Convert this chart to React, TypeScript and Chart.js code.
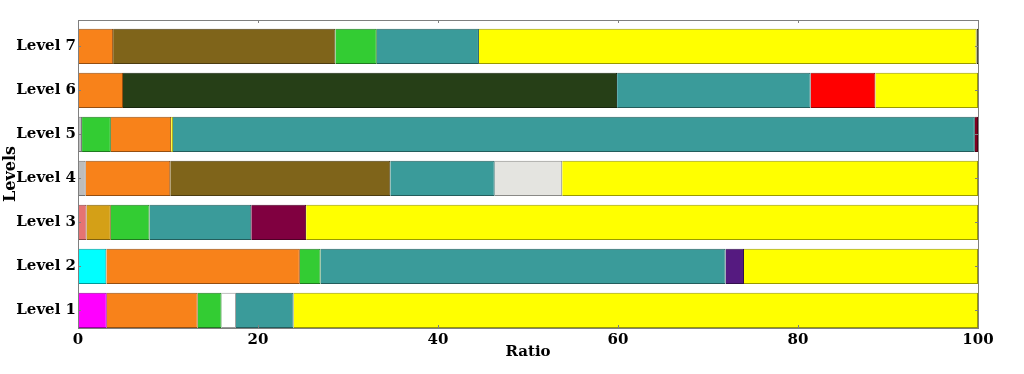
import { useEffect, useRef } from "react";
import { Chart, registerables } from "chart.js";

Chart.register(...registerables);

const levelLabels = ["Level 1", "Level 2", "Level 3", "Level 4", "Level 5", "Level 6", "Level 7"];
const xTickValues = [0, 20, 40, 60, 80, 100];

const ORANGE = "#f8821a";
const GREEN = "#33cc33";
const TEAL = "#3a9b9a";
const YELLOW = "#ffff00";
const OLIVE = "#7f641a";

const level1Values = [3.2, 10.1, 2.65, 1.6, 6.4, 76.05];
const level1Colors = ["#ff00ff", ORANGE, GREEN, "#ffffff", TEAL, YELLOW];

const level2Values = [3.15, 21.5, 2.3, 45.0, 2.05, 26.0];
const level2Colors = ["#00ffff", ORANGE, GREEN, TEAL, "#551a80", YELLOW];

const level3Values = [0.95, 2.7, 4.3, 11.3, 6.1, 74.65];
const level3Colors = ["#e67373", "#d4a017", GREEN, TEAL, "#800040", YELLOW];

const level4Values = [0.85, 9.4, 24.45, 11.6, 7.5, 46.2];
const level4Colors = ["#bdbdbd", ORANGE, OLIVE, TEAL, "#e4e4e0", YELLOW];

const level5Values = [0.45, 3.2, 6.7, 0.2, 89.1, 0.35];
const level5Colors = ["#bdbdbd", GREEN, ORANGE, YELLOW, TEAL, "#800020"];

const level6Values = [5.0, 54.9, 21.5, 7.2, 11.4];
const level6Colors = [ORANGE, "#263f17", TEAL, "#ff0000", YELLOW];

const level7Values = [3.9, 24.7, 4.6, 11.35, 55.3, 0.15];
const level7Colors = [ORANGE, OLIVE, GREEN, TEAL, YELLOW, "#2a2a00"];

const allValues = [level1Values, level2Values, level3Values, level4Values, level5Values, level6Values, level7Values];
const allColors = [level1Colors, level2Colors, level3Colors, level4Colors, level5Colors, level6Colors, level7Colors];

function darken(hex: string, f = 0.6): string {
  const n = parseInt(hex.slice(1), 16);
  const r = Math.round(((n >> 16) & 255) * f);
  const g = Math.round(((n >> 8) & 255) * f);
  const b = Math.round((n & 255) * f);
  return `rgb(${r},${g},${b})`;
}

const FONT = "'DejaVu Serif', serif";

const framePlugin = {
  id: "frame",
  afterDatasetsDraw(chart: any) {
    const { ctx, chartArea } = chart;
    const { left, right, top, bottom } = chartArea;
    const xs = chart.scales.x;
    const ys = chart.scales.y;
    ctx.save();
    ctx.strokeStyle = "#7f7f7f";
    ctx.lineWidth = 1;
    ctx.beginPath();
    for (const v of xTickValues.slice(1, -1)) {
      const px = Math.round(xs.getPixelForValue(v)) + 0.5;
      ctx.moveTo(px, top);
      ctx.lineTo(px, top + 3);
      ctx.moveTo(px, bottom);
      ctx.lineTo(px, bottom - 3);
    }
    levelLabels.forEach((_, i) => {
      const py = Math.round(ys.getPixelForValue(i)) + 0.5;
      ctx.moveTo(left, py);
      ctx.lineTo(left + 3, py);
      ctx.moveTo(right, py);
      ctx.lineTo(right - 3, py);
    });
    ctx.stroke();
    ctx.strokeRect(Math.round(left) + 0.5, Math.round(top) + 0.5, Math.round(right - left), Math.round(bottom - top));
    ctx.restore();
  },
};

export default function App() {
  const ref = useRef<HTMLCanvasElement | null>(null);

  useEffect(() => {
    document.body.style.margin = "0";
    const canvas = ref.current;
    if (!canvas) return;
    const maxSeg = Math.max(...allValues.map((a) => a.length));
    const datasets = [];
    for (let s = 0; s < maxSeg; s++) {
      const data: any[] = [];
      const bg: string[] = [];
      const bc: string[] = [];
      allValues.forEach((vals, li) => {
        if (s < vals.length) {
          data.push({ x: vals[s], y: li });
          bg.push(allColors[li][s]);
          bc.push(darken(allColors[li][s]));
        }
      });
      datasets.push({
        label: `Segment ${s + 1}`,
        data,
        backgroundColor: bg,
        borderColor: bc,
        borderWidth: 1,
        borderSkipped: "start",
        barPercentage: 0.8,
        categoryPercentage: 1,
      });
    }

    const chart = new Chart(canvas, {
      type: "bar",
      data: { datasets: datasets as any },
      plugins: [framePlugin],
      options: {
        indexAxis: "y",
        animation: false,
        responsive: false,
        maintainAspectRatio: false,
        layout: { padding: { left: 0, right: 46, top: 20, bottom: 0 } },
        plugins: { legend: { display: false }, tooltip: { enabled: false } },
        scales: {
          x: {
            type: "linear",
            position: "bottom",
            min: 0,
            max: 100,
            stacked: true,
            offset: false,
            grid: { display: false, drawTicks: false },
            border: { display: false },
            afterBuildTicks: (s: any) => {
              s.ticks = xTickValues.map((v) => ({ value: v }));
            },
            ticks: {
              color: "#000",
              padding: 3,
              font: { family: FONT, size: 15, weight: "bold" },
            },
            title: {
              display: true,
              text: "Ratio",
              color: "#000",
              font: { family: FONT, size: 15, weight: "bold" },
              padding: { top: 0, bottom: 13 },
            },
            afterFit: (s: any) => {
              s.height = 46;
            },
          },
          y: {
            type: "linear",
            position: "left",
            min: -0.4,
            max: 6.6,
            stacked: true,
            offset: false,
            grid: { display: false, drawTicks: false, offset: false },
            border: { display: false },
            afterBuildTicks: (s: any) => {
              s.ticks = levelLabels.map((_, i) => ({ value: i }));
            },
            ticks: {
              autoSkip: false,
              color: "#000",
              padding: 2,
              font: { family: FONT, size: 15, weight: "bold" },
              callback: (v: any) => levelLabels[Math.round(Number(v))] ?? "",
            },
            title: {
              display: true,
              text: "Levels",
              color: "#000",
              font: { family: FONT, size: 16, weight: "bold" },
              padding: { top: 1, bottom: 0 },
            },
            afterFit: (s: any) => {
              s.width = 78;
            },
          },
        },
      } as any,
    });
    return () => chart.destroy();
  }, []);

  return (
    <div style={{ width: 1024, height: 374, background: "#fff" }}>
      <canvas ref={ref} width={1024} height={374} style={{ display: "block" }} />
    </div>
  );
}
